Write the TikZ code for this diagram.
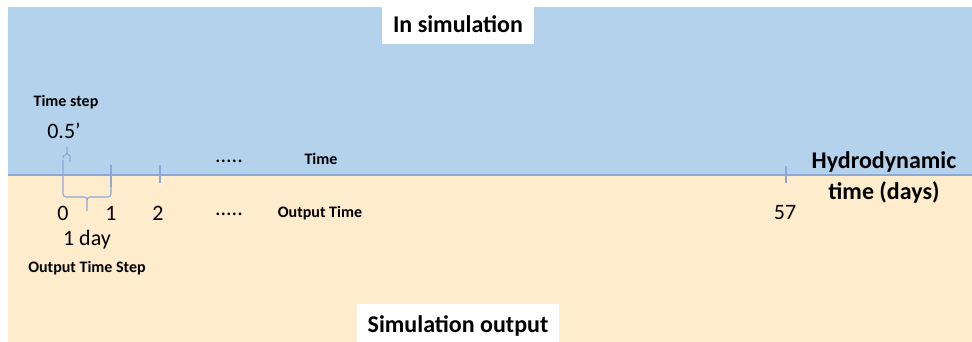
\documentclass[tikz,border=0pt]{standalone}
\usepackage{fontspec}
\setmainfont{Carlito}
\usepackage{tikz}

\definecolor{simblue}{RGB}{180,210,236}
\definecolor{outbeige}{RGB}{255,236,205}
\definecolor{axisblue}{RGB}{140,168,212}

\begin{document}
\begin{tikzpicture}[x=0.75pt,y=0.75pt,yscale=-1,xscale=1,
  bigbold/.style={font=\bfseries\fontsize{18}{22}\selectfont},
  smallbold/.style={font=\bfseries\fontsize{12}{14}\selectfont},
  numtext/.style={font=\fontsize{16.5}{19}\selectfont},
  tickline/.style={draw=axisblue, line width=0.8pt}]
\useasboundingbox (0,0) rectangle (972,342);
\fill[white] (0,0) rectangle (972,342);

%Shape: Rectangle [upper half]
\fill[simblue] (8,7) rectangle (972,175);
%Shape: Rectangle [lower half]
\fill[outbeige] (8,175) rectangle (972,342);

%Straight Lines [time axis]
\draw[axisblue, line width=1pt] (8,175) -- (972,175);

%Straight Lines [ticks]
\draw[tickline] (111,165) -- (111,187);
\draw[tickline] (160,165) -- (160,183);
\draw[tickline] (786,166) -- (786,183);

%Shape: Brace [1 day]
\draw[tickline] (63,160) -- (63,194) to[out=90,in=180] (66,197) -- (84,197) to[out=0,in=-90] (87,200) -- (87,211);
\draw[tickline] (87,200) to[out=-90,in=180] (90,197) -- (108,197) to[out=0,in=90] (111,194) -- (111,187);

%Shape: Brace [time step]
\draw[tickline] (63,158) to[out=-90,in=180] (65,155) to[out=0,in=90] (67,152) -- (67,147);
\draw[tickline] (67,152) to[out=90,in=180] (69,155) to[out=0,in=-90] (70,158) -- (70,162);

% Text Node
\fill[white] (382,0) rectangle (534,44);
\node[bigbold] (insim) at (458,24) {In simulation};
% Text Node
\fill[white] (357,304) rectangle (559,342);
\node[bigbold] (simout) at (458,326) {Simulation output};

% Text Node
\node[smallbold] (tstep) at (66,102) {Time step};
\node[numtext] (half) at (64,131) {0.5’};
% Text Node
\node[numtext] (t0) at (63,213) {0};
\node[numtext] (t1) at (111,213) {1};
\node[numtext] (t2) at (158,213) {2};
\node[numtext] (t57) at (785,213) {57};
\node[numtext] (oneday) at (87,240) {1 day};
\node[smallbold] (outstep) at (87,268) {Output Time Step};
% Text Node
\node[numtext, anchor=base] (dotsup) at (229,163) {.....};
\node[numtext, anchor=base] (dotslow) at (229,216) {.....};
\node[smallbold] (timelbl) at (321,159) {Time};
\node[smallbold] (outtime) at (320,213) {Output Time};
% Text Node
\node[bigbold] (hydro) at (884,162) {Hydrodynamic};
\node[bigbold] (hydrodays) at (884,192) {time (days)};

\end{tikzpicture}
\end{document}
